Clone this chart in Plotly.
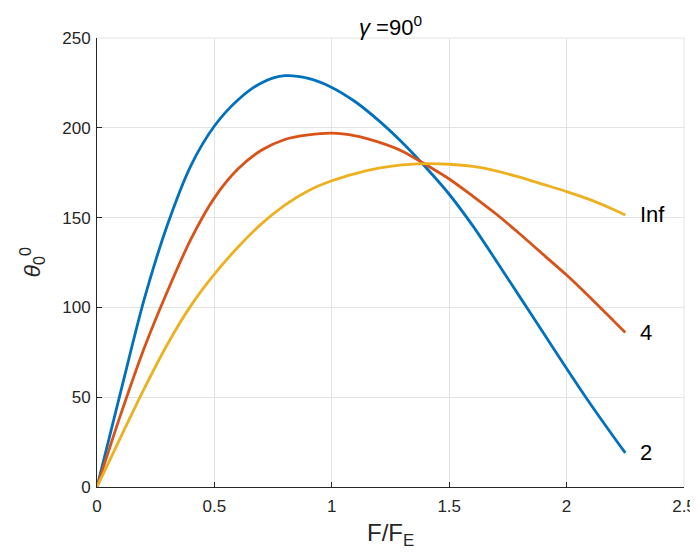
import plotly.graph_objects as go

# F/F_E values and theta_0 (degrees)
x_vals = [0, 0.1, 0.2, 0.3, 0.4, 0.5, 0.6, 0.7, 0.8, 0.9, 1.0, 1.1, 1.2,
          1.3, 1.4, 1.5, 1.6, 1.7, 1.8, 1.9, 2.0, 2.1, 2.2, 2.25]
y_n2 = [0, 52.5, 104, 146, 179, 201, 215.5, 225, 229, 227.5, 222.5, 214.5, 204,
        191.8, 178, 163, 145.5, 126, 106, 86, 66, 46.5, 28, 19]
y_n4 = [0, 40, 77, 109, 138, 161, 177, 187.5, 193.5, 196, 197, 195.5, 192,
        187, 179.5, 171.5, 162, 152, 141, 129.5, 118, 105.5, 92.5, 86]
y_inf = [0, 27.5, 54.5, 79.5, 101, 118.5, 133.5, 146.5, 157, 165, 170.5, 174.5, 177.5,
         179.3, 180, 179.7, 178.5, 176, 172.5, 168.5, 164.5, 160, 154.5, 151.5]

series_names = ["2", "4", "Inf"]
series_values = [y_n2, y_n4, y_inf]
series_colors = ["#0072BD", "#D95319", "#EDB120"]

x_ticks = [0, 0.5, 1, 1.5, 2, 2.5]
x_tick_labels = ["0", "0.5", "1", "1.5", "2", "2.5"]
y_ticks = [0, 50, 100, 150, 200, 250]

FONT = "Liberation Sans, Arial, sans-serif"
# page body has an 8px margin; figure sized so the plot area lands where the reference has it
W, H = 690, 552
L, R, T, B = 89, 14, 30, 73
PW, PH = W - L - R, H - T - B

fig = go.Figure()
for name, ys, col in zip(series_names, series_values, series_colors):
    fig.add_trace(go.Scatter(x=x_vals, y=ys, mode="lines", name=name,
                             line=dict(color=col, width=2.8, shape="spline", smoothing=0.8),
                             showlegend=False))
    fig.add_annotation(x=x_vals[-1] + 0.055, y=ys[-1], text=name, showarrow=False,
                       xanchor="left", yanchor="middle",
                       font=dict(size=22, color="#000000", family=FONT))

axis_common = dict(showgrid=True, gridcolor="#e3e3e3", gridwidth=1, zeroline=False,
                   showline=True, linecolor="#262626", linewidth=1,
                   ticks="inside", ticklen=5, tickcolor="#262626", automargin=False,
                   tickfont=dict(size=17, color="#262626", family=FONT))

fig.update_xaxes(range=[0, 2.5], tickvals=x_ticks, ticktext=x_tick_labels,
                 ticklabelstandoff=4, **axis_common)
fig.update_yaxes(range=[0, 250], tickvals=y_ticks, ticklabelstandoff=2, **axis_common)

# light borders on top/right (grid at limits)
fig.add_shape(type="line", xref="paper", yref="paper", x0=0, x1=1, y0=1, y1=1,
              line=dict(color="#e3e3e3", width=1))
fig.add_shape(type="line", xref="paper", yref="paper", x0=1, x1=1, y0=0, y1=1,
              line=dict(color="#e3e3e3", width=1))

# title
fig.add_annotation(xref="paper", yref="paper", x=0.5, y=1 + 12 / PH,
                   text="<i>γ</i> =90<sup>0</sup>", showarrow=False,
                   xanchor="center", yanchor="middle",
                   font=dict(size=22, color="#000000", family=FONT))
# x title
fig.add_annotation(xref="paper", yref="paper", x=0.5, y=-47 / PH,
                   text="F/F<sub>E</sub>", showarrow=False,
                   xanchor="center", yanchor="middle",
                   font=dict(size=24, color="#262626", family=FONT))
# y title
fig.add_annotation(xref="paper", yref="paper", x=-(L - 23) / PW, y=0.5,
                   text="<i>θ</i><sub>0</sub><sup>0</sup>", showarrow=False, textangle=-90,
                   xanchor="center", yanchor="middle",
                   font=dict(size=23, color="#262626", family=FONT))

fig.update_layout(
    width=W, height=H,
    margin=dict(l=L, r=R, t=T, b=B, autoexpand=False),
    paper_bgcolor="white", plot_bgcolor="white",
)

fig.write_html("out.html")
